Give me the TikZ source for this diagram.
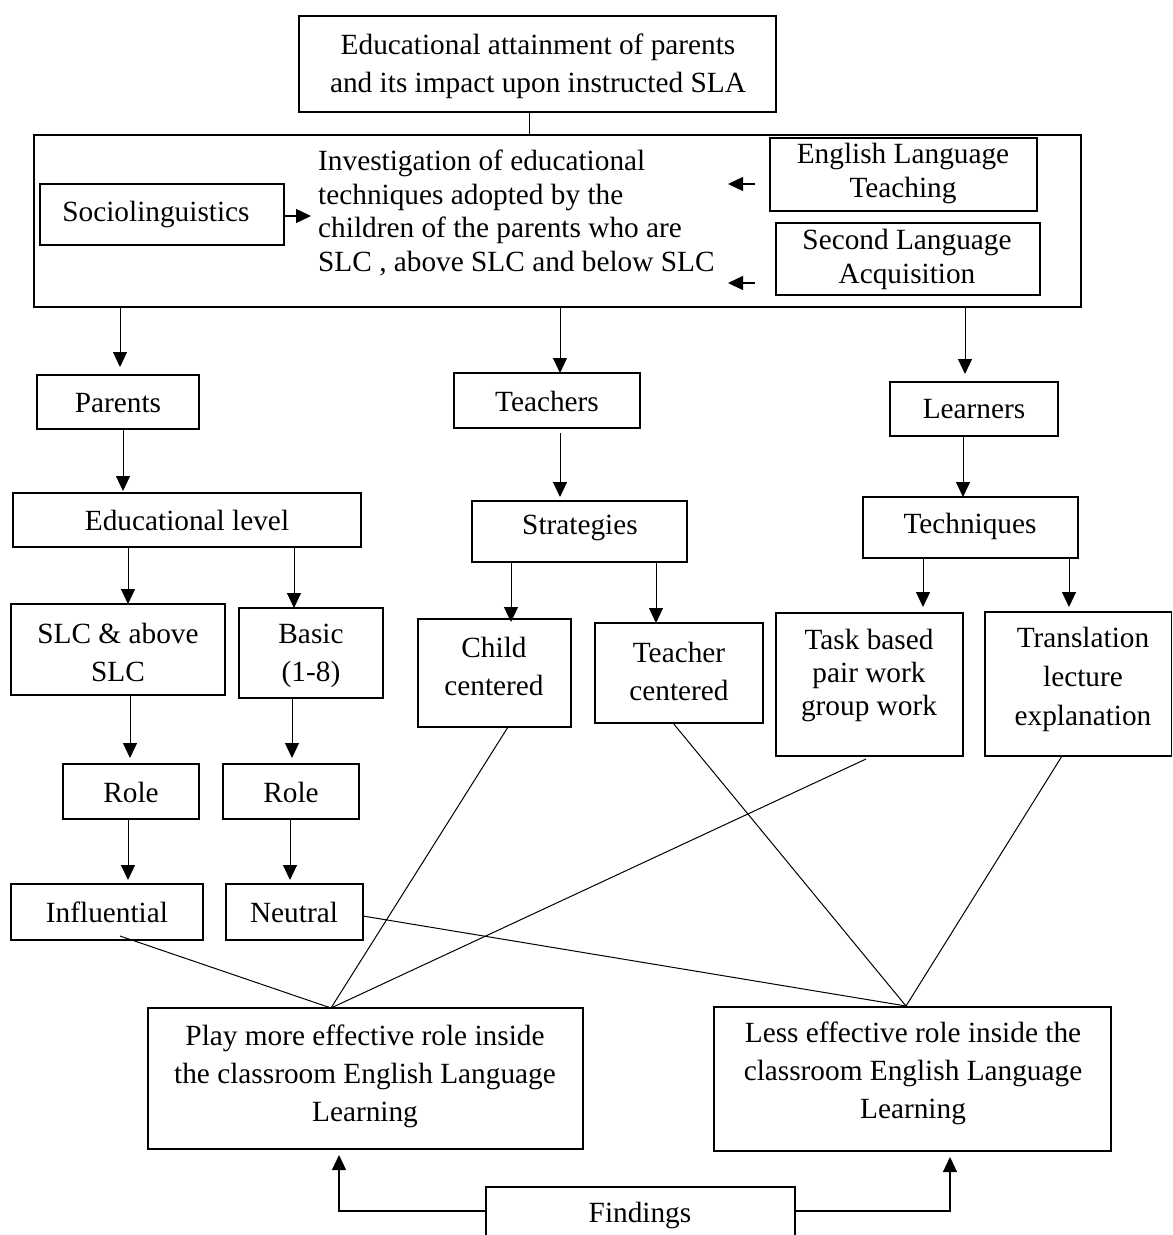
\documentclass[tikz,border=0pt]{standalone}
\usepackage{fontspec}
\setmainfont{Liberation Serif}
\usetikzlibrary{arrows.meta}
\begin{document}
\begin{tikzpicture}[x=1pt,y=-1pt,
  box/.style={draw, line width=1.3pt, inner sep=0pt, outer sep=0pt},
  txt/.style={inner sep=0pt, align=center, font=\fontsize{29.3}{38}\selectfont},
  arr/.style={line width=1pt, -{Triangle[length=15pt,width=14pt]}},
  sarr/.style={line width=1.3pt, -{Triangle[length=15pt,width=14pt]}},
  ln/.style={line width=1pt}]
\useasboundingbox (0,0) rectangle (1173,1235);
\fill[white] (0,0) rectangle (1173,1235);
% boxes
\node[box, line width=2pt, minimum width=477pt, minimum height=96pt] (top) at (537.5,64) {};
\node[txt] (topT) at (538,66) {Educational attainment of parents\\and its impact upon instructed SLA};
\node[box, minimum width=1047pt, minimum height=172pt] (big) at (557.5,221) {};
\node[txt, anchor=west, align=left, font=\fontsize{29.3}{33.5}\selectfont] (inv) at (318,213) {Investigation of educational\\techniques adopted by the\\children of the parents who are\\SLC , above SLC and below SLC};
\node[box, minimum width=244pt, minimum height=61pt] (socio) at (162,214.5) {};
\node[txt] (socioT) at (156,214) {Sociolinguistics};
\node[box, minimum width=267pt, minimum height=73pt] (elt) at (903.5,174.5) {};
\node[txt, font=\fontsize{29.3}{34}\selectfont] (eltT) at (903,173) {English Language\\Teaching};
\node[box, minimum width=264pt, minimum height=72pt] (sla) at (908,259) {};
\node[txt, font=\fontsize{29.3}{34}\selectfont] (slaT) at (907,259) {Second Language\\Acquisition};
\node[box, minimum width=162pt, minimum height=54pt] (parents) at (118,402) {};
\node[txt] (parentsT) at (118,403) {Parents};
\node[box, minimum width=186pt, minimum height=55pt] (teachers) at (547,400.5) {};
\node[txt] (teachersT) at (547,401) {Teachers};
\node[box, minimum width=168pt, minimum height=54pt] (learners) at (974,409) {};
\node[txt] (learnersT) at (974,409) {Learners};
\node[box, minimum width=348pt, minimum height=54pt] (edlevel) at (187,520) {};
\node[txt] (edlevelT) at (187,520) {Educational level};
\node[box, minimum width=215pt, minimum height=61pt] (strat) at (579.5,531.5) {};
\node[txt] (stratT) at (580,528) {Strategies};
\node[box, minimum width=215pt, minimum height=61pt] (tech) at (970.5,527.5) {};
\node[txt] (techT) at (970,526) {Techniques};
\node[box, minimum width=214pt, minimum height=91pt] (slc) at (118,649.5) {};
\node[txt] (slcT) at (118,652) {SLC \& above\\SLC};
\node[box, minimum width=144pt, minimum height=90pt] (basic) at (311,653) {};
\node[txt] (basicT) at (311,656) {Basic\\(1-8)};
\node[box, minimum width=153pt, minimum height=108pt] (child) at (494.5,673) {};
\node[txt] (childT) at (494,666) {Child\\centered};
\node[box, minimum width=168pt, minimum height=100pt] (teach) at (679,673) {};
\node[txt] (teachT) at (679,671) {Teacher\\centered};
\node[box, minimum width=187pt, minimum height=143pt] (task) at (869.5,684.5) {};
\node[txt, font=\fontsize{29.3}{33}\selectfont] (taskT) at (869,675) {Task based\\pair work\\group work};
\node[box, minimum width=186.5pt, minimum height=144pt] (trans) at (1078.25,684) {};
\node[txt, font=\fontsize{29.3}{39}\selectfont] (transT) at (1083,679) {Translation\\lecture\\explanation};
\node[box, minimum width=136pt, minimum height=55pt] (role1) at (131,791.5) {};
\node[txt] (role1T) at (131,792) {Role};
\node[box, minimum width=136pt, minimum height=55pt] (role2) at (291,791.5) {};
\node[txt] (role2T) at (291,792) {Role};
\node[box, minimum width=192pt, minimum height=56pt] (infl) at (107,912) {};
\node[txt] (inflT) at (107,912) {Influential};
\node[box, minimum width=137pt, minimum height=56pt] (neut) at (294.5,912) {};
\node[txt] (neutT) at (294,912) {Neutral};
\node[box, minimum width=435pt, minimum height=141pt] (play) at (365.5,1078.5) {};
\node[txt] (playT) at (365,1076) {Play more effective role inside\\the classroom English Language\\Learning};
\node[box, minimum width=397pt, minimum height=144pt] (less) at (912.5,1079) {};
\node[txt] (lessT) at (913,1073) {Less effective role inside the\\classroom English Language\\Learning};
\node[inner sep=0pt, outer sep=0pt, minimum width=309pt, minimum height=53pt] (find) at (640.5,1213.5) {};
\draw[line width=1.3pt] (find.south west) -- (find.north west) -- (find.north east) -- (find.south east);
\node[txt] (findT) at (640,1215) {Findings};
% connectors
\draw[ln] (top.south -| 529,0) -- (big.north -| 529,0);
\coordinate (sa) at (311,216);
\draw[sarr] (socio.east |- 0,216) -- (sa);
\coordinate (e1a) at (755,184); \coordinate (e1b) at (728,184);
\draw[sarr] (e1a) -- (e1b);
\coordinate (e2a) at (755,283); \coordinate (e2b) at (728,283);
\draw[sarr] (e2a) -- (e2b);
\draw[arr, shorten >=8pt] (big.south -| 120,0) -- (parents.north -| 120,0);
\draw[arr] (big.south -| 560,0) -- (teachers.north -| 560,0);
\draw[arr, shorten >=8pt] (big.south -| 965,0) -- (learners.north -| 965,0);
\draw[arr, shorten >=2pt] (parents.south -| 123,0) -- (edlevel.north -| 123,0);
\draw[arr, shorten <=5pt, shorten >=4pt] (teachers.south -| 560,0) -- (strat.north -| 560,0);
\draw[arr] (learners.south -| 963,0) -- (tech.north -| 963,0);
\draw[arr] (edlevel.south -| 128,0) -- (slc.north -| 128,0);
\draw[arr] (edlevel.south -| 294,0) -- (basic.north -| 294,0);
\draw[arr, shorten >=-3pt] (strat.south -| 511,0) -- (child.north -| 511,0);
\draw[arr] (strat.south -| 656,0) -- (teach.north -| 656,0);
\draw[arr, shorten >=6pt] (tech.south -| 923,0) -- (task.north -| 923,0);
\draw[arr, shorten >=5pt] (tech.south -| 1069,0) -- (trans.north -| 1069,0);
\draw[arr, shorten >=6pt] (slc.south -| 130,0) -- (role1.north -| 130,0);
\draw[arr, shorten >=6pt] (basic.south -| 292,0) -- (role2.north -| 292,0);
\draw[arr, shorten >=4pt] (role1.south -| 128,0) -- (infl.north -| 128,0);
\draw[arr, shorten >=4pt] (role2.south -| 290,0) -- (neut.north -| 290,0);
% lines to findings boxes
\coordinate (pm) at (331,1008);
\coordinate (lm) at (906,1006);
\draw[ln] (infl.south -| 120,0) ++(0,-4) -- (pm);
\draw[ln] (child.south -| 508,0) -- (pm);
\draw[ln] (task.south -| 866,0) ++(0,3) -- (pm);
\draw[ln] (neut.east |- 0,916) -- (lm);
\draw[ln] (teach.south -| 673,0) -- (lm);
\draw[ln] (trans.south -| 1062,0) -- (lm);
% findings arrows
\draw[arr, line width=1.3pt, shorten >=6pt] (find.west |- 0,1211) -| (play.south -| 339,0);
\draw[arr, line width=1.3pt, shorten >=6pt] (find.east |- 0,1211) -| (less.south -| 950,0);
\end{tikzpicture}
\end{document}
